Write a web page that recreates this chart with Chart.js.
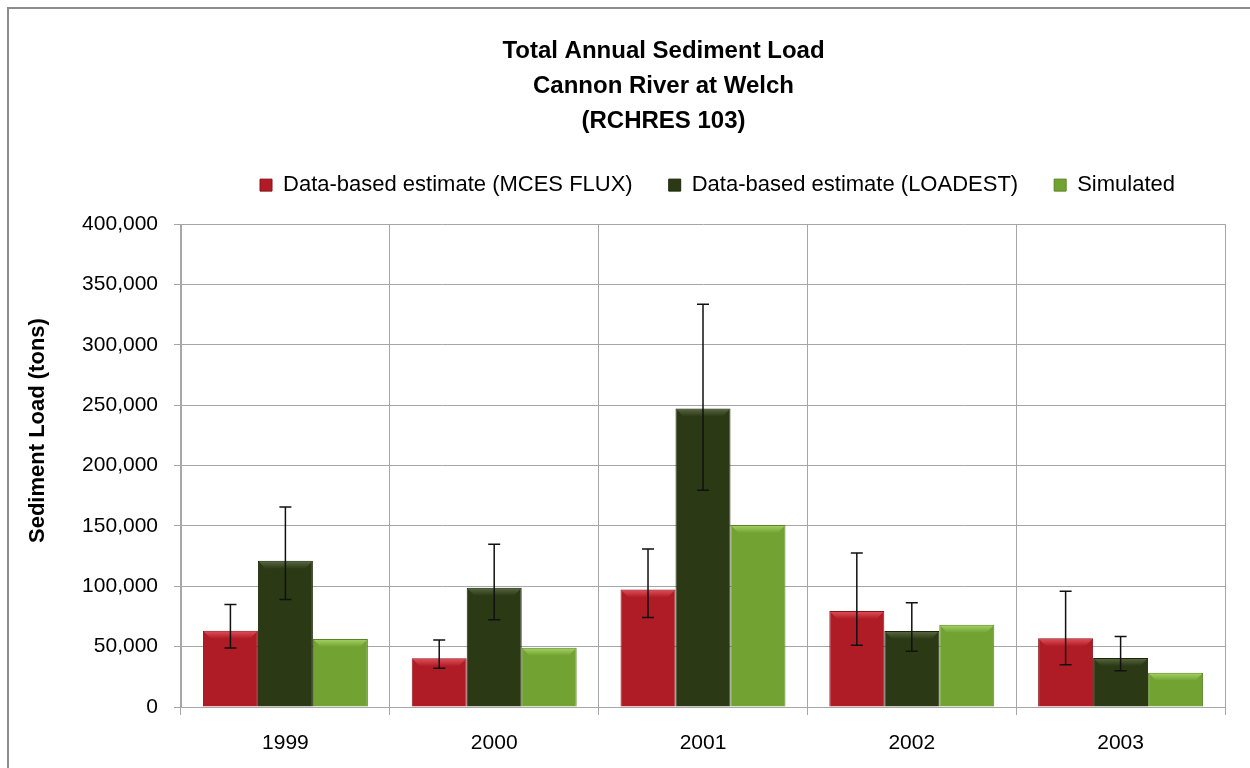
<!DOCTYPE html>
<html>
<head>
<meta charset="utf-8">
<script src="https://cdn.jsdelivr.net/npm/chart.js@4"></script>
<style>
  html, body { margin: 0; padding: 0; background: #fff; overflow: hidden; }
  #frame { position: absolute; left: 7px; top: 7px; width: 1300px; height: 800px; border: 2px solid #8c8c8c; }
  #wrap { position: absolute; left: 0; top: 0; width: 1250px; height: 768px; }
</style>
</head>
<body>
<div id="frame"></div>
<div id="wrap"><canvas id="myChart" width="1250" height="768"></canvas></div>
<script>
// values (tons)
const years = ['1999', '2000', '2001', '2002', '2003'];
const seriesNames = ['Data-based estimate (MCES FLUX)', 'Data-based estimate (LOADEST)', 'Simulated'];

const mcesFlux = [63200, 40300, 97400, 79500, 56900];
const mcesLow  = [48800, 32000, 74200, 51100, 35000];
const mcesHigh = [85000, 55500, 130800, 127500, 95800];

const loadest     = [121100, 98800, 247300, 62900, 40600];
const loadestLow  = [89100, 72300, 179600, 46100, 30100];
const loadestHigh = [165600, 134900, 333600, 86300, 58500];

const simulated = [56300, 49100, 150700, 68100, 28400];

const yTicks = [0, 50000, 100000, 150000, 200000, 250000, 300000, 350000, 400000];

const fillColors  = ['#b01c26', '#2b3914', '#72a332'];
const bevelColors = ['#e4515a', '#5a6a45', '#a6d466'];

const errorRanges = [
  { low: mcesLow, high: mcesHigh },
  { low: loadestLow, high: loadestHigh },
  null
];

const font = "Arial, 'Liberation Sans', sans-serif";

// bevel highlight on top of each bar + error bars
const barExtras = {
  id: 'barExtras',
  afterDatasetsDraw(chart) {
    const ctx = chart.ctx;
    const yScale = chart.scales.y;
    chart.data.datasets.forEach((ds, i) => {
      const meta = chart.getDatasetMeta(i);
      meta.data.forEach((bar) => {
        const left = bar.x - bar.width / 2;
        const right = bar.x + bar.width / 2;
        const top = bar.y;
        const b = 8;
        ctx.save();
        const g = ctx.createLinearGradient(0, top, 0, top + b);
        g.addColorStop(0, bevelColors[i]);
        g.addColorStop(1, fillColors[i]);
        ctx.fillStyle = g;
        ctx.beginPath();
        ctx.moveTo(left + 1, top + 1);
        ctx.lineTo(right - 1, top + 1);
        ctx.lineTo(right - b, top + b);
        ctx.lineTo(left + b, top + b);
        ctx.closePath();
        ctx.fill();
        ctx.restore();
      });
    });
    chart.data.datasets.forEach((ds, i) => {
      const range = errorRanges[i];
      if (!range) return;
      const meta = chart.getDatasetMeta(i);
      ctx.save();
      ctx.strokeStyle = '#111';
      ctx.lineWidth = 1.5;
      meta.data.forEach((bar, j) => {
        const yLo = yScale.getPixelForValue(range.low[j]);
        const yHi = yScale.getPixelForValue(range.high[j]);
        const cap = 6;
        ctx.beginPath();
        ctx.moveTo(bar.x, yLo); ctx.lineTo(bar.x, yHi);
        ctx.moveTo(bar.x - cap, yHi); ctx.lineTo(bar.x + cap, yHi);
        ctx.moveTo(bar.x - cap, yLo); ctx.lineTo(bar.x + cap, yLo);
        ctx.stroke();
      });
      ctx.restore();
    });
  },
  // y axis title sits a bit above the plot centre in the original
  afterDraw(chart) {
    const ctx = chart.ctx;
    const area = chart.chartArea;
    ctx.save();
    ctx.translate(38, (area.top + area.bottom) / 2 - 35);
    ctx.rotate(-Math.PI / 2);
    ctx.font = 'bold 22px ' + font;
    ctx.fillStyle = '#000';
    ctx.textAlign = 'center';
    ctx.textBaseline = 'middle';
    ctx.fillText('Sediment Load (tons)', 0, 0);
    ctx.restore();
  }
};

// legend: wide gaps between items but a fixed block height; title & legend
// are centred a little right of the canvas centre
const headerLayout = {
  id: 'headerLayout',
  beforeLayout(chart) {
    const lg = chart.legend;
    if (lg && !lg._fixedFit) {
      const orig = lg.fit.bind(lg);
      lg.fit = function () { orig(); this.height = 86; };
      lg._fixedFit = true;
    }
  },
  afterLayout(chart) {
    const t = chart.titleBlock;
    if (t) { t.left += 41; t.right += 41; }
    const lg = chart.legend;
    if (lg) {
      lg.left += 95; lg.right += 95;
      lg.legendHitBoxes.forEach(h => { h.left += 95; });
    }
  }
};

new Chart(document.getElementById('myChart').getContext('2d'), {
  type: 'bar',
  data: {
    labels: years,
    datasets: [
      { label: seriesNames[0], data: mcesFlux, backgroundColor: fillColors[0], borderColor: '#8a1219', borderWidth: 1 },
      { label: seriesNames[1], data: loadest, backgroundColor: fillColors[1], borderColor: '#1c2709', borderWidth: 1 },
      { label: seriesNames[2], data: simulated, backgroundColor: fillColors[2], borderColor: '#5a8424', borderWidth: 1 }
    ]
  },
  options: {
    responsive: false,
    animation: false,
    devicePixelRatio: 1,
    datasets: { bar: { barPercentage: 1, categoryPercentage: 0.79 } },
    layout: { padding: { left: 20, right: 25, top: 34, bottom: 0 } },
    plugins: {
      title: {
        display: true,
        text: ['Total Annual Sediment Load', 'Cannon River at Welch', '(RCHRES 103)'],
        color: '#000',
        font: { family: font, size: 24, weight: 'bold', lineHeight: 1.46 },
        padding: { top: 0, bottom: -1 }
      },
      legend: {
        display: true,
        labels: {
          color: '#000',
          font: { family: font, size: 22 },
          boxWidth: 12,
          boxHeight: 12,
          padding: 36
        }
      },
      tooltip: { enabled: false }
    },
    scales: {
      x: {
        grid: { color: '#a6a6a6', lineWidth: 1, tickLength: 8 },
        border: { color: '#a6a6a6' },
        ticks: { color: '#000', font: { family: font, size: 21 }, padding: 16 },
        afterFit(scale) { scale.height = 61; }
      },
      y: {
        min: 0,
        max: 400000,
        afterBuildTicks(scale) { scale.ticks = yTicks.map(v => ({ value: v })); },
        grid: { color: '#a6a6a6', lineWidth: 1, tickLength: 7 },
        border: { color: '#a6a6a6' },
        ticks: {
          color: '#000',
          font: { family: font, size: 21 },
          padding: 16,
          callback: v => v.toLocaleString('en-US')
        },
        afterFit(scale) { scale.width = 161; }
      }
    }
  },
  plugins: [barExtras, headerLayout]
});
</script>
</body>
</html>
